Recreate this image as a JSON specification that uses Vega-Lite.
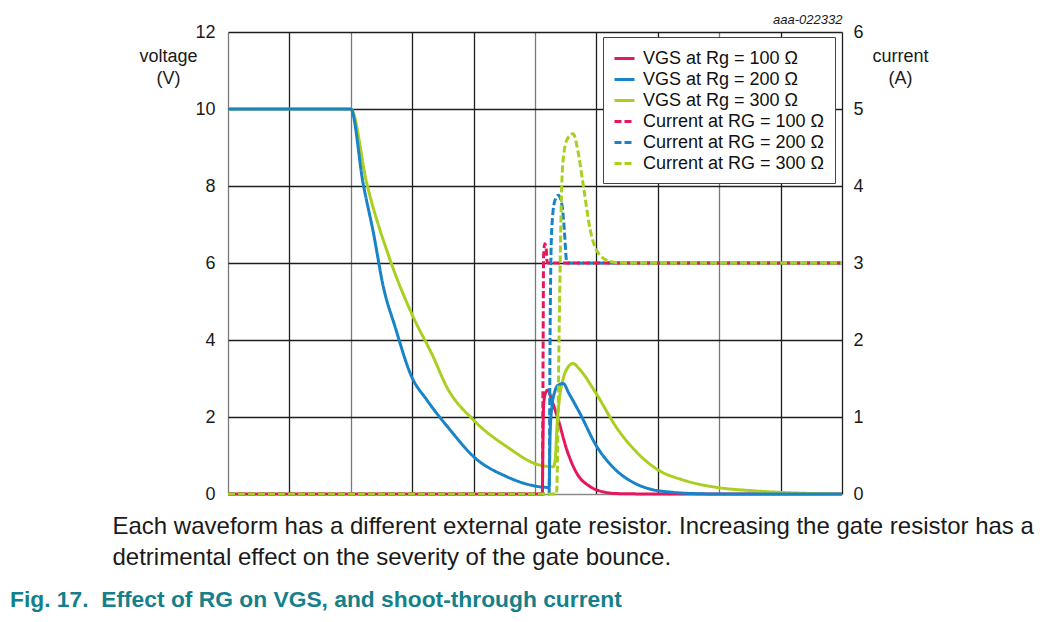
{
  "$schema": "https://vega.github.io/schema/vega-lite/v6.json",
  "width": 614,
  "height": 462,
  "autosize": {"type": "none"},
  "padding": {"left": 228, "top": 32, "right": 219, "bottom": 128},
  "background": "white",
  "config": {
    "font": "Liberation Sans",
    "view": {"stroke": null},
    "axis": {"labelFont": "Liberation Sans", "titleFont": "Liberation Sans", "labelColor": "#1a1a1a", "titleColor": "#1a1a1a"}
  },
  "title": {
    "text": "Fig. 17.\u00a0\u00a0Effect of RG on VGS, and shoot-through current",
    "orient": "bottom",
    "anchor": "start",
    "frame": "group",
    "dx": -218,
    "offset": 20,
    "fontSize": 22.8,
    "fontWeight": "bold",
    "color": "#14808a",
    "font": "Liberation Sans"
  },
  "datasets": {
    "vgs": [
      {"t": 0, "v": 0, "series": "VGS at Rg = 100 Ω"},
      {"t": 5.12, "v": 0, "series": "VGS at Rg = 100 Ω"},
      {"t": 5.128, "v": 1.2, "series": "VGS at Rg = 100 Ω"},
      {"t": 5.14, "v": 2.3, "series": "VGS at Rg = 100 Ω"},
      {"t": 5.17, "v": 2.62, "series": "VGS at Rg = 100 Ω"},
      {"t": 5.21, "v": 2.7, "series": "VGS at Rg = 100 Ω"},
      {"t": 5.27, "v": 2.45, "series": "VGS at Rg = 100 Ω"},
      {"t": 5.38, "v": 1.92, "series": "VGS at Rg = 100 Ω"},
      {"t": 5.52, "v": 1.14, "series": "VGS at Rg = 100 Ω"},
      {"t": 5.68, "v": 0.54, "series": "VGS at Rg = 100 Ω"},
      {"t": 5.9, "v": 0.19, "series": "VGS at Rg = 100 Ω"},
      {"t": 6.1, "v": 0.06, "series": "VGS at Rg = 100 Ω"},
      {"t": 6.35, "v": 0.01, "series": "VGS at Rg = 100 Ω"},
      {"t": 7, "v": 0, "series": "VGS at Rg = 100 Ω"},
      {"t": 10, "v": 0, "series": "VGS at Rg = 100 Ω"},
      {"t": 0, "v": 10, "series": "VGS at Rg = 300 Ω"},
      {"t": 2, "v": 10, "series": "VGS at Rg = 300 Ω"},
      {"t": 2.26, "v": 8.07, "series": "VGS at Rg = 300 Ω"},
      {"t": 2.64, "v": 6.08, "series": "VGS at Rg = 300 Ω"},
      {"t": 2.99, "v": 4.69, "series": "VGS at Rg = 300 Ω"},
      {"t": 3.34, "v": 3.57, "series": "VGS at Rg = 300 Ω"},
      {"t": 3.56, "v": 2.79, "series": "VGS at Rg = 300 Ω"},
      {"t": 4.0, "v": 1.92, "series": "VGS at Rg = 300 Ω"},
      {"t": 4.54, "v": 1.23, "series": "VGS at Rg = 300 Ω"},
      {"t": 5.08, "v": 0.75, "series": "VGS at Rg = 300 Ω"},
      {"t": 5.3, "v": 0.71, "series": "VGS at Rg = 300 Ω"},
      {"t": 5.33, "v": 0.9, "series": "VGS at Rg = 300 Ω"},
      {"t": 5.36, "v": 1.8, "series": "VGS at Rg = 300 Ω"},
      {"t": 5.4, "v": 2.5, "series": "VGS at Rg = 300 Ω"},
      {"t": 5.46, "v": 3.0, "series": "VGS at Rg = 300 Ω"},
      {"t": 5.54, "v": 3.3, "series": "VGS at Rg = 300 Ω"},
      {"t": 5.62, "v": 3.39, "series": "VGS at Rg = 300 Ω"},
      {"t": 5.72, "v": 3.25, "series": "VGS at Rg = 300 Ω"},
      {"t": 6.0, "v": 2.6, "series": "VGS at Rg = 300 Ω"},
      {"t": 6.33, "v": 1.72, "series": "VGS at Rg = 300 Ω"},
      {"t": 6.71, "v": 1.0, "series": "VGS at Rg = 300 Ω"},
      {"t": 7.01, "v": 0.62, "series": "VGS at Rg = 300 Ω"},
      {"t": 7.42, "v": 0.36, "series": "VGS at Rg = 300 Ω"},
      {"t": 8.01, "v": 0.16, "series": "VGS at Rg = 300 Ω"},
      {"t": 8.5, "v": 0.09, "series": "VGS at Rg = 300 Ω"},
      {"t": 9.02, "v": 0.04, "series": "VGS at Rg = 300 Ω"},
      {"t": 9.59, "v": 0.01, "series": "VGS at Rg = 300 Ω"},
      {"t": 10, "v": 0, "series": "VGS at Rg = 300 Ω"},
      {"t": 0, "v": 10, "series": "VGS at Rg = 200 Ω"},
      {"t": 2, "v": 10, "series": "VGS at Rg = 200 Ω"},
      {"t": 2.2, "v": 8.07, "series": "VGS at Rg = 200 Ω"},
      {"t": 2.37, "v": 6.77, "series": "VGS at Rg = 200 Ω"},
      {"t": 2.53, "v": 5.38, "series": "VGS at Rg = 200 Ω"},
      {"t": 2.72, "v": 4.35, "series": "VGS at Rg = 200 Ω"},
      {"t": 2.99, "v": 3.05, "series": "VGS at Rg = 200 Ω"},
      {"t": 3.24, "v": 2.44, "series": "VGS at Rg = 200 Ω"},
      {"t": 3.62, "v": 1.66, "series": "VGS at Rg = 200 Ω"},
      {"t": 4.0, "v": 0.97, "series": "VGS at Rg = 200 Ω"},
      {"t": 4.54, "v": 0.45, "series": "VGS at Rg = 200 Ω"},
      {"t": 4.86, "v": 0.26, "series": "VGS at Rg = 200 Ω"},
      {"t": 5.23, "v": 0.17, "series": "VGS at Rg = 200 Ω"},
      {"t": 5.245, "v": 1.5, "series": "VGS at Rg = 200 Ω"},
      {"t": 5.27, "v": 2.2, "series": "VGS at Rg = 200 Ω"},
      {"t": 5.32, "v": 2.65, "series": "VGS at Rg = 200 Ω"},
      {"t": 5.38, "v": 2.83, "series": "VGS at Rg = 200 Ω"},
      {"t": 5.46, "v": 2.87, "series": "VGS at Rg = 200 Ω"},
      {"t": 5.55, "v": 2.62, "series": "VGS at Rg = 200 Ω"},
      {"t": 5.73, "v": 2.1, "series": "VGS at Rg = 200 Ω"},
      {"t": 6.0, "v": 1.25, "series": "VGS at Rg = 200 Ω"},
      {"t": 6.28, "v": 0.68, "series": "VGS at Rg = 200 Ω"},
      {"t": 6.6, "v": 0.3, "series": "VGS at Rg = 200 Ω"},
      {"t": 6.87, "v": 0.13, "series": "VGS at Rg = 200 Ω"},
      {"t": 7.2, "v": 0.05, "series": "VGS at Rg = 200 Ω"},
      {"t": 7.6, "v": 0.01, "series": "VGS at Rg = 200 Ω"},
      {"t": 8, "v": 0, "series": "VGS at Rg = 200 Ω"},
      {"t": 10, "v": 0, "series": "VGS at Rg = 200 Ω"}
    ],
    "cur": [
      {"t": 0, "i": 0, "series": "Current at RG = 200 Ω"},
      {"t": 5.23, "i": 0, "series": "Current at RG = 200 Ω"},
      {"t": 5.245, "i": 2.0, "series": "Current at RG = 200 Ω"},
      {"t": 5.27, "i": 3.4, "series": "Current at RG = 200 Ω"},
      {"t": 5.32, "i": 3.8, "series": "Current at RG = 200 Ω"},
      {"t": 5.38, "i": 3.88, "series": "Current at RG = 200 Ω"},
      {"t": 5.44, "i": 3.75, "series": "Current at RG = 200 Ω"},
      {"t": 5.48, "i": 3.4, "series": "Current at RG = 200 Ω"},
      {"t": 5.51, "i": 3.05, "series": "Current at RG = 200 Ω"},
      {"t": 5.53, "i": 3.0, "series": "Current at RG = 200 Ω"},
      {"t": 10, "i": 3.0, "series": "Current at RG = 200 Ω"},
      {"t": 0, "i": 0, "series": "Current at RG = 100 Ω"},
      {"t": 5.12, "i": 0, "series": "Current at RG = 100 Ω"},
      {"t": 5.13, "i": 1.5, "series": "Current at RG = 100 Ω"},
      {"t": 5.14, "i": 3.1, "series": "Current at RG = 100 Ω"},
      {"t": 5.16, "i": 3.25, "series": "Current at RG = 100 Ω"},
      {"t": 5.18, "i": 3.2, "series": "Current at RG = 100 Ω"},
      {"t": 5.2, "i": 3.0, "series": "Current at RG = 100 Ω"},
      {"t": 10, "i": 3.0, "series": "Current at RG = 100 Ω"},
      {"t": 0, "i": 0, "series": "Current at RG = 300 Ω"},
      {"t": 5.35, "i": 0, "series": "Current at RG = 300 Ω"},
      {"t": 5.4, "i": 2.5, "series": "Current at RG = 300 Ω"},
      {"t": 5.43, "i": 3.86, "series": "Current at RG = 300 Ω"},
      {"t": 5.46, "i": 4.35, "series": "Current at RG = 300 Ω"},
      {"t": 5.52, "i": 4.6, "series": "Current at RG = 300 Ω"},
      {"t": 5.62, "i": 4.68, "series": "Current at RG = 300 Ω"},
      {"t": 5.7, "i": 4.45, "series": "Current at RG = 300 Ω"},
      {"t": 5.79, "i": 3.99, "series": "Current at RG = 300 Ω"},
      {"t": 5.9, "i": 3.43, "series": "Current at RG = 300 Ω"},
      {"t": 6.0, "i": 3.17, "series": "Current at RG = 300 Ω"},
      {"t": 6.22, "i": 3.02, "series": "Current at RG = 300 Ω"},
      {"t": 6.44, "i": 3.0, "series": "Current at RG = 300 Ω"},
      {"t": 10, "i": 3.0, "series": "Current at RG = 300 Ω"}
    ]
  },
  "layer": [
    {
      "data": {"name": "vgs"},
      "mark": {"type": "line", "strokeWidth": 3, "interpolate": "monotone"},
      "encoding": {
        "x": {
          "field": "t", "type": "quantitative",
          "scale": {"domain": [0, 10], "nice": false},
          "axis": {
            "orient": "bottom",
            "values": [0, 1, 2, 3, 4, 5, 6, 7, 8, 9, 10],
            "labels": false, "ticks": false, "domain": false,
            "grid": true, "gridWidth": 1.3, "gridOpacity": 1,
            "gridColor": {"condition": {"test": "datum.value == 0 || datum.value == 2 || datum.value == 5 || datum.value == 8", "value": "#7a7a7a"}, "value": "#1e1e1e"},
            "title": ["Each waveform has a different external gate resistor. Increasing the gate resistor has a", "detrimental effect on the severity of the gate bounce."],
            "titleFontSize": 24, "titleFontWeight": "normal", "titleColor": "#1a1a1a",
            "titleAnchor": "start", "titleAlign": "left", "titleBaseline": "alphabetic",
            "titleX": -116, "titleY": 39, "titleLineHeight": 31, "titleLimit": 2000
          }
        },
        "y": {
          "field": "v", "type": "quantitative",
          "scale": {"domain": [0, 12], "nice": false},
          "axis": {
            "orient": "left",
            "values": [0, 2, 4, 6, 8, 10, 12],
            "ticks": false, "domain": false,
            "grid": true, "gridWidth": 1.3, "gridOpacity": 1,
            "gridColor": {"condition": {"test": "datum.value == 0", "value": "#8a8a8a"}, "value": "#1e1e1e"},
            "labelFontSize": 18, "labelPadding": 13,
            "title": ["voltage", "(V)"], "titleAngle": 0, "titleAlign": "center", "titleBaseline": "top",
            "titleX": -60, "titleY": 15, "titleFontSize": 18, "titleFontWeight": "normal", "titleLineHeight": 22
          }
        },
        "color": {
          "field": "series", "type": "nominal",
          "scale": {
            "domain": ["VGS at Rg = 100 Ω", "VGS at Rg = 200 Ω", "VGS at Rg = 300 Ω", "Current at RG = 100 Ω", "Current at RG = 200 Ω", "Current at RG = 300 Ω"],
            "range": ["#e5185d", "#1883c6", "#a9cf20", "#e5185d", "#1883c6", "#a9cf20"]
          },
          "legend": {
            "orient": "none", "legendX": 375, "legendY": 5, "title": null,
            "symbolType": "stroke", "symbolStrokeWidth": 3, "symbolSize": 400,
            "labelFontSize": 18, "labelColor": "#111", "labelOffset": 7, "labelFont": "Liberation Sans", "labelLimit": 400,
            "strokeColor": "#444", "fillColor": "white", "padding": 10, "rowPadding": -1,
            "cornerRadius": 0
          }
        },
        "strokeDash": {
          "field": "series", "type": "nominal",
          "scale": {
            "domain": ["VGS at Rg = 100 Ω", "VGS at Rg = 200 Ω", "VGS at Rg = 300 Ω", "Current at RG = 100 Ω", "Current at RG = 200 Ω", "Current at RG = 300 Ω"],
            "range": [[1, 0], [1, 0], [1, 0], [7, 3], [7, 3], [7, 3]]
          },
          "legend": null
        },
        "order": {"value": null}
      }
    },
    {
      "data": {"name": "cur"},
      "mark": {"type": "line", "strokeWidth": 3, "interpolate": "monotone"},
      "encoding": {
        "x": {
          "field": "t", "type": "quantitative",
          "scale": {"domain": [0, 10], "nice": false},
          "axis": {
            "orient": "top", "labels": false, "ticks": false, "domain": false, "grid": false,
            "title": "aaa-022332", "titleFontStyle": "italic", "titleFontWeight": "normal", "titleFontSize": 13,
            "titleAnchor": "end", "titleAlign": "right", "titleBaseline": "alphabetic",
            "titleX": 614, "titleY": -9
          }
        },
        "y": {
          "field": "i", "type": "quantitative",
          "scale": {"domain": [0, 6], "nice": false},
          "axis": {
            "orient": "right",
            "values": [0, 1, 2, 3, 4, 5, 6],
            "ticks": false, "domain": false, "grid": false,
            "labelFontSize": 18, "labelPadding": 11,
            "title": ["current", "(A)"], "titleAngle": 0, "titleAlign": "center", "titleBaseline": "top",
            "titleX": 58, "titleY": 15, "titleFontSize": 18, "titleFontWeight": "normal", "titleLineHeight": 22
          }
        },
        "color": {"field": "series", "type": "nominal"},
        "strokeDash": {"field": "series", "type": "nominal"},
        "order": {"value": null}
      }
    }
  ],
  "resolve": {"scale": {"y": "independent"}, "axis": {"x": "independent"}}
}
